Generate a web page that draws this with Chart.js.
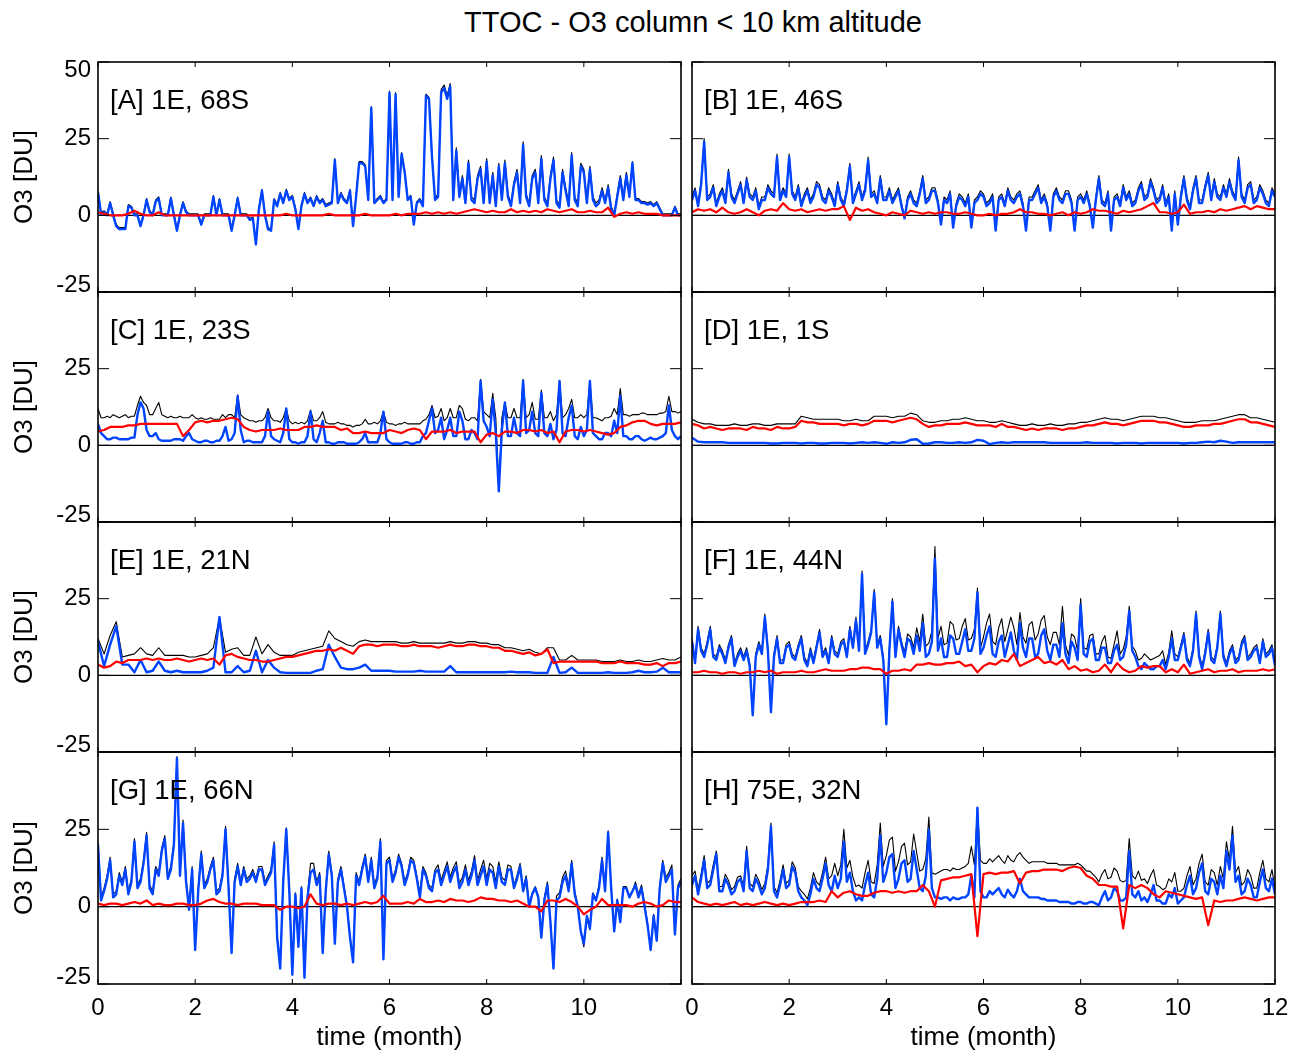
<!DOCTYPE html>
<html>
<head>
<meta charset="utf-8">
<title>TTOC - O3 column &lt; 10 km altitude</title>
<script src="https://cdn.jsdelivr.net/npm/chart.js@4.4.1/dist/chart.umd.min.js"></script>
<style>
	html, body { margin: 0; padding: 0; background: #fff; }
	body {
		width: 1303px; height: 1053px; position: relative; overflow: hidden;
		font-family: "Liberation Sans", Arial, Helvetica, sans-serif; color: #000;
	}
	.title {
		position: absolute; left: 693px; top: 6px; transform: translateX(-50%);
		font-size: 29px; line-height: 32px; white-space: nowrap;
	}
	.panel-label { position: absolute; font-size: 27.5px; line-height: 32px; white-space: nowrap; z-index: 2; }
	canvas { position: absolute; }
</style>
</head>
<body>
<div class="title">TTOC - O3 column &lt; 10 km altitude</div>
<script>
'use strict';

// time axis (months): coarse grid, one sample every 1/8 month
const months = [
	0, 0.125, 0.25, 0.375, 0.5, 0.625, 0.75, 0.875,
	1, 1.125, 1.25, 1.375, 1.5, 1.625, 1.75, 1.875,
	2, 2.125, 2.25, 2.375, 2.5, 2.625, 2.75, 2.875,
	3, 3.125, 3.25, 3.375, 3.5, 3.625, 3.75, 3.875,
	4, 4.125, 4.25, 4.375, 4.5, 4.625, 4.75, 4.875,
	5, 5.125, 5.25, 5.375, 5.5, 5.625, 5.75, 5.875,
	6, 6.125, 6.25, 6.375, 6.5, 6.625, 6.75, 6.875,
	7, 7.125, 7.25, 7.375, 7.5, 7.625, 7.75, 7.875,
	8, 8.125, 8.25, 8.375, 8.5, 8.625, 8.75, 8.875,
	9, 9.125, 9.25, 9.375, 9.5, 9.625, 9.75, 9.875,
	10, 10.125, 10.25, 10.375, 10.5, 10.625, 10.75, 10.875,
	11, 11.125, 11.25, 11.375, 11.5, 11.625, 11.75, 11.875,
	12
];

// fine grid, one sample every 1/16 month (for the spiky series)
const monthsFine = [
	0, 0.0625, 0.125, 0.1875, 0.25, 0.3125, 0.375, 0.4375, 0.5, 0.5625, 0.625, 0.6875, 0.75, 0.8125, 0.875, 0.9375,
	1, 1.0625, 1.125, 1.1875, 1.25, 1.3125, 1.375, 1.4375, 1.5, 1.5625, 1.625, 1.6875, 1.75, 1.8125, 1.875, 1.9375,
	2, 2.0625, 2.125, 2.1875, 2.25, 2.3125, 2.375, 2.4375, 2.5, 2.5625, 2.625, 2.6875, 2.75, 2.8125, 2.875, 2.9375,
	3, 3.0625, 3.125, 3.1875, 3.25, 3.3125, 3.375, 3.4375, 3.5, 3.5625, 3.625, 3.6875, 3.75, 3.8125, 3.875, 3.9375,
	4, 4.0625, 4.125, 4.1875, 4.25, 4.3125, 4.375, 4.4375, 4.5, 4.5625, 4.625, 4.6875, 4.75, 4.8125, 4.875, 4.9375,
	5, 5.0625, 5.125, 5.1875, 5.25, 5.3125, 5.375, 5.4375, 5.5, 5.5625, 5.625, 5.6875, 5.75, 5.8125, 5.875, 5.9375,
	6, 6.0625, 6.125, 6.1875, 6.25, 6.3125, 6.375, 6.4375, 6.5, 6.5625, 6.625, 6.6875, 6.75, 6.8125, 6.875, 6.9375,
	7, 7.0625, 7.125, 7.1875, 7.25, 7.3125, 7.375, 7.4375, 7.5, 7.5625, 7.625, 7.6875, 7.75, 7.8125, 7.875, 7.9375,
	8, 8.0625, 8.125, 8.1875, 8.25, 8.3125, 8.375, 8.4375, 8.5, 8.5625, 8.625, 8.6875, 8.75, 8.8125, 8.875, 8.9375,
	9, 9.0625, 9.125, 9.1875, 9.25, 9.3125, 9.375, 9.4375, 9.5, 9.5625, 9.625, 9.6875, 9.75, 9.8125, 9.875, 9.9375,
	10, 10.0625, 10.125, 10.1875, 10.25, 10.3125, 10.375, 10.4375, 10.5, 10.5625, 10.625, 10.6875, 10.75, 10.8125, 10.875, 10.9375,
	11, 11.0625, 11.125, 11.1875, 11.25, 11.3125, 11.375, 11.4375, 11.5, 11.5625, 11.625, 11.6875, 11.75, 11.8125, 11.875, 11.9375,
	12
];

const xTickVals = [0, 2, 4, 6, 8, 10, 12];
const yTickVals = [-25, 0, 25, 50];
const panelLabels = ['[A] 1E, 68S', '[B] 1E, 46S', '[C] 1E, 23S', '[D] 1E, 1S',
	'[E] 1E, 21N', '[F] 1E, 44N', '[G] 1E, 66N', '[H] 75E, 32N'];

// [A] 1E, 68S  (black, blue: fine grid; red: coarse grid)
const blackA = [
	8, 1, 1.5, 0.5, 4.5, 0.5, -3, -4, -4, -4, 3.5, 3, 0.5, 0.5, -3, 0.5,
	5.5, 1.5, 0.5, 5, 6, 0.5, 0.5, 0.5, 6, 0.5, -4.5, 0.5, 4.5, 1.5, 0.5, 0.5,
	0.5, 0.5, -2.5, 0.5, 0.5, 0.5, 6.5, 0.5, 5.5, 0.5, 0.5, 0.5, -4.5, 0.5, 6, 0.5,
	0.5, 0.5, -1, -0.5, -9, 2.5, 8.5, 0.5, -4, -4.5, 5.5, 3.5, 7.5, 4.5, 8.5, 5.5,
	6.5, 2.5, -4, 3.5, 7.5, 4.5, 6, 3.5, 6.5, 4.5, 5.5, 3.5, 4, 4.5, 18.5, 4.5,
	7.5, 5.5, 4.5, 8.5, -3, 6.5, 17.5, 17.5, 16.5, 5.5, 35.5, 4.5, 5.5, 6.5, 4.5, 5.5,
	40.5, 5.5, 40, 6.5, 20.5, 14.5, 5.5, 6.5, -2.5, 4.5, 5.5, 3.5, 39.5, 38.5, 19.5, 5.5,
	7, 41, 42.5, 39, 43, 6, 22, 7, 13, 5, 18, 6, 5, 13, 16, 5,
	18.5, 5, 14, 4, 17, 6, 18, 7, 4, 11, 15, 5, 24, 7, 4, 13,
	15, 5, 19.5, 6, 4, 13, 19, 5, 3.5, 15, 9, 4, 20.5, 6, 4, 17,
	15, 5, 16, 6, 4, 5, 9, 5, 10, 3, 0.5, 7, 13, 6, 14, 6.5,
	17.5, 5.5, 5.5, 4.5, 4.5, 4, 4.5, 3.5, 4.5, 2.5, 0.5, 0.5, 0.5, 0.5, 3, 0.5,
	0.5
];
const blueA = [
	7.5, 0.5, 1, 0, 4, 0, -3.5, -4.5, -4.5, -4.5, 3, 2.5, 0, 0, -3.5, 0,
	5, 1, 0, 4.5, 5.5, 0, 0, 0, 5.5, 0, -5, 0, 4, 1, 0, 0,
	0, 0, -3, 0, 0, 0, 6, 0, 5, 0, 0, 0, -5, 0, 5.5, 0,
	0, 0, -1.5, -1, -9.5, 2, 8, 0, -4.5, -5, 5, 3, 7, 4, 8, 5,
	6, 2, -4.5, 3, 7, 4, 5.5, 3, 6, 4, 5, 3, 3.5, 4, 18, 4,
	7, 5, 4, 8, -3.5, 6, 17, 17, 16, 5, 35, 4, 5, 6, 4, 5,
	40, 5, 39.5, 6, 20, 14, 5, 6, -3, 4, 5, 3, 39, 38, 19, 5,
	6, 40, 41.5, 38, 42, 5, 21, 6, 12, 4, 17, 5, 4, 12, 15, 4,
	17.5, 4, 13, 3, 16, 5, 17, 6, 3, 10, 14, 4, 23, 6, 3, 12,
	14, 4, 18.5, 5, 3, 12, 18, 4, 2.5, 14, 8, 3, 19.5, 5, 3, 16,
	14, 4, 15, 5, 3, 4, 8, 4, 9, 2, 0, 6, 12, 5, 13, 6,
	17, 5, 5, 4, 4, 3.5, 4, 3, 4, 2, 0, 0, 0, 0, 2.5, 0,
	0
];
const redA = [
	1, 0.5, 0, 0, 0, 0.5, 1.5, 0.5,
	0, 0, 1, 0, 0, 0, 0, 0,
	0, 0, 0, 0, 0, 0, 0, 0,
	0, 0, 0, 0, 0, 0, 0, 0.5,
	0, 0, 0, 0, 0, 0, 0.5, 0,
	0, 0, 0, 0, 0.5, 0, 0, 0,
	0, 0.5, 0, 0.5, 0.5, 0.5, 1, 0.5,
	1, 0.5, 1, 0.5, 1, 1.5, 2, 1.5,
	1, 1.5, 1, 1, 2, 1, 1.5, 1,
	1.5, 1, 2, 1.5, 1, 1.5, 2, 1,
	1, 1.5, 1, 1, 2.5, -0.5, 0.5, 1,
	0.5, 1, 0.5, 0.5, 0.5, 0, 0, 0,
	0
];

// [B] 1E, 46S
const blackB = [
	6, 9, 4, 11, 25, 6, 7, 10, 4, 7, 9, 5, 15, 7, 5, 8,
	11, 5, 12.5, 7, 6, 9, 3, 6, 6, 10, 8, 7, 20, 6, 9, 7,
	20, 8, 6, 10, 4, 7, 9, 5, 7, 11, 10, 6, 5, 9, 7, 4,
	11, 6, 4, 9, 17, 5, 8, 11, 6, 9, 19, 7, 8, 5, 13, 6,
	6, 9, 5, 7, 9, 4, -0.5, 6, 8, 5, 4, 8, 13, 5, 6, 9,
	9, 5, -2.5, 6, 5, 8, -3.5, 4, 7, 6, 4, 7, -3.5, 5, 6, 8,
	7, 4, 5, 7, -4.5, 6, 7, 4, 9, 6, 5, 7, 8, 4, -4.5, 6,
	6, 8, 10, 5, 7, 4, -4.5, 7, 9, 6, 5, 8, 8, 5, -4.5, 6,
	7, 5, 8, 4, -3.5, 6, 13, 5, 4, 8, -4.5, 6, 7, 4, 10, 6,
	8, 4, 5, 9, 11, 6, 7, 12, 9, 5, 6, 10, 4, 7, -4.5, 8,
	-2.5, 7, 13, 6, 3, 9, 13, 5, 5, 10, 14, 6, 12, 7, 6, 10,
	7, 12, 8, 6, 19, 7, 5, 10, 11, 5, 6, 10, 8, 5, 4, 9,
	7
];
const blueB = [
	5, 8, 3, 10, 24, 5, 6, 9, 3, 6, 8, 4, 14, 6, 4, 7,
	10, 4, 11.5, 6, 5, 8, 2, 5, 5, 9, 7, 6, 19, 5, 8, 6,
	19, 7, 5, 9, 3, 6, 8, 4, 6, 10, 9, 5, 4, 8, 6, 3,
	10, 5, 3, 8, 16, 4, 7, 10, 5, 8, 18, 6, 7, 4, 12, 5,
	5, 8, 4, 6, 8, 3, -1, 5, 7, 4, 3, 7, 12, 4, 5, 8,
	8, 4, -3, 5, 4, 7, -4, 3, 6, 5, 3, 6, -4, 4, 5, 7,
	6, 3, 4, 6, -5, 5, 6, 3, 8, 5, 4, 6, 7, 3, -5, 5,
	5, 7, 9, 4, 6, 3, -5, 6, 8, 5, 4, 7, 7, 4, -5, 5,
	6, 4, 7, 3, -4, 5, 12, 4, 3, 7, -5, 5, 6, 3, 9, 5,
	7, 3, 4, 8, 10, 5, 6, 11, 8, 4, 5, 9, 3, 6, -5, 7,
	-3, 6, 12, 5, 2, 8, 12, 4, 4, 9, 13, 5, 11, 6, 5, 9,
	6, 11, 7, 5, 18, 6, 4, 9, 10, 4, 5, 9, 7, 4, 3, 8,
	6
];
const redB = [
	1, 2, 1.5, 2, 1, 2.5, 1, 0.5,
	1, 2, 1, 0, 1.5, 2, 1.5, 4,
	2, 1.5, 2, 1, 1.5, 2, 1.5, 2,
	2, 3, -1.5, 2.5, 1.5, 2, 1, 0.5,
	0, 1, 0.5, 0, 1.5, 1, 0.5, 1,
	0.5, 1, 1, 0.5, 0.5, 1, 0.5, 0,
	0, 0.5, 0, 0.5, 0.5, 1, 2, 1,
	1, 0.5, 0.5, 0, 0.5, 1, 0, 1,
	0.5, 1, 2, 1.5, 1.5, 1, 0.5, 1.5,
	1, 1.5, 2, 3, 4, 1, 1, 0.5,
	1, 3.5, 0.5, 1, 1, 1.5, 1, 2,
	1.5, 2, 2.5, 3, 2, 3, 2.5, 2,
	2
];

// [C] 1E, 23S
const blackC = [
	12, 9, 9, 9.5, 9, 10, 9.5, 9, 9.5, 10, 9, 9.5, 9.5, 13, 16, 14,
	13, 10, 10, 12, 14, 10, 9.5, 9, 9.5, 9, 9, 9.5, 9, 9, 9, 10,
	9, 8.5, 9, 8.5, 8.5, 9, 8.5, 8.5, 8.5, 10, 9, 10, 10, 9, 16.5, 10,
	9, 8.5, 8, 8, 7.5, 8, 8, 9, 12, 9, 8, 8, 7.5, 9, 12, 8,
	7, 7.5, 7, 7.5, 7, 8, 11.5, 8, 8, 9, 11, 7.5, 7, 7, 7, 7.5,
	7, 7, 6.5, 6.5, 6, 6.5, 6.5, 7, 8.5, 7, 7, 7.5, 7, 8, 11, 7.5,
	7, 7, 6.5, 7, 7, 7.5, 7, 7, 7, 7, 7, 8, 8.5, 10, 13, 9,
	9.5, 12, 8, 9, 12, 9, 9, 13, 12, 8.5, 8, 9, 9, 8, 21.5, 11,
	10, 9, 17, 9, -14, 9, 14, 9, 9, 12, 9, 9, 21.5, 9, 10, 14,
	8.5, 8.5, 18, 9, 9, 11, 8, 10, 21, 9, 10, 12, 15, 9, 9, 10,
	9, 10, 21, 9, 9, 8.5, 8, 9, 9, 9.5, 12, 10, 18.5, 10, 10, 9.5,
	10, 10, 10, 10.5, 10.5, 10, 10, 10, 10, 10.5, 10.5, 11, 16, 11, 11, 10.5,
	11
];
const blueC = [
	7, 4, 3, 2, 2, 2.5, 2.5, 2, 2, 2, 2, 2.5, 2.5, 10, 14, 12,
	5, 3, 3, 4, 2, 1.5, 1.5, 1.5, 1.5, 2, 2, 2, 1.5, 3, 4, 2,
	1.5, 1, 1, 1.5, 1.5, 1, 1, 1.5, 1.5, 3, 6, 1.5, 2, 4, 16, 5,
	1, 1.5, 1.5, 1, 1, 1, 1, 3, 11, 3, 2, 1.5, 1, 4, 12, 2,
	1, 1, 0.5, 1, 1, 3, 11, 2, 1, 4, 8, 1, 1, 0.5, 0.5, 1,
	1, 1, 0.5, 0.5, 0.5, 0.5, 1, 2, 4, 1, 1, 1, 1, 4, 11, 2,
	1, 0.5, 0.5, 0.5, 0.5, 1, 1, 0.5, 0.5, 1, 1, 3, 4, 8, 12, 4,
	5, 9, 2, 5, 9, 3, 3, 11, 8, 2, 2, 5, 4, 2, 21, 8,
	6, 3, 15, 4, -15, 5, 14, 3, 3, 9, 4, 3, 21, 4, 5, 11,
	4, 3, 17, 4, 3, 7, 2, 5, 21, 4, 3, 9, 13, 3, 2, 6,
	3, 5, 21, 4, 3, 2, 2, 4, 4, 3, 8, 4, 16, 3, 3, 2,
	2, 3, 3, 2, 1.5, 2, 2.5, 2, 2, 2.5, 3, 4, 13, 5, 3, 2,
	3
];
const redC = [
	4.5, 5, 6, 6, 6, 6.5, 6.5, 7,
	7, 7, 7, 7, 7, 7, 3, 5,
	7.5, 8, 7.5, 8, 8, 8.5, 9, 8.5,
	6, 5, 4.5, 5, 5, 5, 5.5, 5,
	5, 5, 6, 6, 6.5, 6, 6, 6,
	5, 5.5, 4, 4, 4.5, 4, 4, 4,
	5, 4.5, 4, 5, 5.5, 5, 2, 4.5,
	4.5, 4.5, 5, 4, 4.5, 4.5, 4.5, 1,
	3.5, 4, 3, 4.5, 4.5, 4, 5, 5,
	4.5, 5, 4, 4.5, 1, 4.5, 5, 5,
	4.5, 5, 4.5, 4, 3.5, 4, 6, 6.5,
	7.5, 8, 8, 7, 6.5, 7, 7, 7,
	7.5
];

// [D] 1E, 1S  (coarse grid)
const blackD = [
	8.5, 7.5, 7, 7, 6.5, 6.5, 6.5, 7,
	6.5, 6.5, 7, 7, 6.5, 6.5, 7, 7,
	7, 7, 9.5, 9, 8.5, 8.5, 8.5, 8.5,
	8.5, 8, 8, 8.5, 8, 8, 9.5, 9.5,
	9.5, 9, 9.5, 9.5, 10.5, 10, 8, 7.5,
	7.5, 8, 8, 8.5, 8.5, 9, 8.5, 8,
	8, 7.5, 7.5, 8, 7.5, 7, 6.5, 6.5,
	7, 6.5, 6.5, 7, 6.5, 6.5, 7, 7,
	7.5, 7.5, 8, 8.5, 9, 8.5, 8.5, 8,
	8.5, 9, 9.5, 9.5, 9.5, 9, 9, 8.5,
	8, 7.5, 7.5, 7.5, 8, 8, 8, 8.5,
	9, 9.5, 10, 10, 9, 9, 8.5, 8,
	7.5
];
const blueD = [
	2.5, 1.2, 1, 1, 1, 1, 0.8, 0.8,
	0.8, 0.8, 0.8, 0.8, 0.8, 0.6, 0.6, 0.8,
	0.8, 0.8, 0.6, 0.8, 0.8, 0.6, 0.6, 0.8,
	0.8, 0.8, 0.6, 0.8, 1, 0.8, 1, 0.8,
	0.5, 1, 0.8, 1, 1.8, 2, 0.5, 0.6,
	1, 1, 0.8, 0.8, 1, 0.8, 1, 1.8,
	1.5, 0.4, 0.8, 1, 0.8, 1, 1, 1,
	1, 1, 1, 0.8, 0.8, 0.8, 0.8, 0.8,
	0.8, 1, 0.8, 0.8, 0.8, 0.8, 0.6, 0.8,
	0.8, 0.8, 0.6, 0.8, 0.8, 0.8, 0.8, 0.8,
	0.8, 0.6, 0.8, 0.8, 1, 1.2, 1, 1.5,
	1.2, 0.8, 1, 1, 1, 1, 1, 1,
	1
];
const redD = [
	7, 6.5, 5.5, 6, 5.5, 5, 5.5, 5.5,
	5.5, 5, 6, 5.5, 5.5, 5, 6, 5.5,
	5.5, 6, 8, 7.5, 7.5, 7, 7, 7,
	7, 6.5, 7, 7, 6.5, 7, 8, 8,
	8, 7.5, 8, 8.5, 9, 8.5, 7, 6,
	6.5, 6.5, 7, 7, 7, 7.5, 7, 6.5,
	6.5, 6.5, 6, 7, 6, 6, 5.5, 5,
	5.5, 5, 5.5, 5.5, 5.5, 5, 5.5, 5.5,
	6, 6.5, 6.5, 7, 7.5, 7, 7, 6.5,
	7, 7.5, 8, 8, 8, 7.5, 7.5, 7,
	6.5, 6, 6, 6.5, 6.5, 6.5, 7, 7,
	7.5, 8, 8.5, 8.5, 7.5, 7.5, 7, 6.5,
	6
];

// [E] 1E, 21N  (coarse grid)
const blackE = [
	12, 7, 13, 17.5, 6, 6.5, 7, 9,
	7, 6.5, 9, 6.5, 6.5, 6.5, 6.5, 6,
	6, 6.5, 7, 9, 19, 7.5, 8.5, 9,
	6.5, 6.5, 12.5, 7, 10, 7.5, 6.5, 6.5,
	6.5, 7.5, 8, 8.5, 9, 9.5, 14.5, 12,
	11, 10, 9.5, 11, 11.5, 11, 11, 11,
	11, 11, 10.5, 10.5, 11, 10.5, 10.5, 10.5,
	10.5, 10.5, 11, 10.5, 10.5, 11, 11, 10.5,
	10.5, 10, 10, 9, 9, 8.5, 8, 8.5,
	7.5, 7, 9, 9, 5, 5, 6.5, 5,
	5, 5, 5, 4.5, 4.5, 4.5, 5, 4.5,
	4.5, 5, 4.5, 4.5, 5, 5.5, 5, 5,
	6
];
const blueE = [
	11, 3, 10, 16, 3.5, 3.5, 1, 5,
	1, 1.5, 4.5, 1.5, 1, 1.5, 1, 1,
	1, 1, 1.5, 2.5, 19, 1, 1, 3,
	1, 1.5, 8, 1, 5, 2.5, 1, 0.8,
	0.8, 0.8, 0.8, 0.8, 1.5, 2, 10, 6,
	2.5, 2, 2, 2.5, 3.5, 1.5, 1.5, 1.5,
	1.5, 1.2, 1.2, 1.2, 1.2, 1.5, 1.2, 1.2,
	1.2, 1.2, 3, 1, 1, 1, 1, 1,
	1, 1, 1, 1, 1.2, 1, 1, 1,
	0.8, 0.8, 0.8, 6, 0.8, 1, 2.5, 0.8,
	0.8, 0.8, 0.8, 0.8, 1, 0.8, 0.8, 0.8,
	1, 1.5, 1, 1, 1.2, 2.5, 1, 1,
	1
];
const redE = [
	3.5, 2.5, 3, 4.5, 4, 5, 5, 5,
	5.5, 5, 5.5, 5, 5, 5.5, 5, 4.5,
	5, 5.5, 5, 5.5, 3.5, 6.5, 7, 6,
	5.5, 5, 5, 4.5, 4.5, 5, 5.5, 6,
	6, 6.5, 7, 7.5, 8, 8, 8.5, 8,
	9, 8, 7, 9.5, 10, 10, 9.5, 10,
	10, 10, 9.5, 9.5, 10, 9.5, 9.5, 9.5,
	9, 9.5, 10, 9.5, 9.5, 10, 10, 9.5,
	9.5, 9, 9, 8, 8, 7.5, 7, 7.5,
	6.5, 7, 8.5, 4, 4.5, 4.5, 4.5, 4.5,
	4.5, 4.5, 4.5, 4, 4, 4, 4.5, 4,
	4, 4, 3.5, 3.5, 4, 3, 4, 4,
	4.5
];

// [F] 1E, 44N
const blackF = [
	12, 5, 16, 9, 7, 11, 16, 7, 6, 10, 8, 5, 10, 13, 4, 7,
	9, 6, 9, 4, -12.5, 7, 11, 8, 20, 9, -11.5, 7, 13, 5, 5, 10,
	11, 7, 6, 10, 13, 6, 4, 9, 5, 10, 15, 7, 9, 5, 13, 8,
	7, 11, 12, 7, 16, 10, 19, 9, 34, 8, 11, 15, 28, 10, 13, 6,
	-15.5, 9, 25, 7, 16, 11, 7.5, 13.5, 12.5, 9, 15.5, 11, 20, 9.5, 10.5, 14.5,
	42, 12, 16, 10, 10.5, 17.5, 16.5, 11.5, 12, 16, 18.5, 11.5, 12, 15, 28.5, 9,
	12.5, 17, 20, 11, 10, 15.5, 18.5, 11, 15, 19, 15.5, 10, 20.5, 12.5, 10.5, 16.5,
	17.5, 11.5, 13.5, 18, 19.5, 12.5, 10, 14, 14, 10, 22.5, 10, 6.5, 13.5, 12.5, 8,
	25, 9, 8.5, 13, 13.5, 7, 7, 11, 13, 6, 5.5, 10, 14.5, 7, 8.5, 12.5,
	22.5, 9.5, 8, 5, 5.5, 7, 6, 5, 5.5, 6, 6.5, 8, 3.5, 7.5, 14.5, 7,
	6, 10, 14, 6, 4, 9, 21, 7, 3, 8, 15, 6, 5, 10, 21, 7,
	4, 8, 10, 5, 6, 11, 13, 6, 7, 9, 10, 5, 12, 7, 8, 10,
	4
];
const blueF = [
	11, 4, 15, 8, 6, 10, 15, 6, 5, 9, 7, 4, 9, 12, 3, 6,
	8, 5, 8, 3, -13, 6, 10, 7, 19, 8, -12, 6, 12, 4, 4, 9,
	10, 6, 5, 9, 12, 5, 3, 8, 4, 9, 14, 6, 8, 4, 12, 7,
	6, 10, 11, 6, 15, 9, 18, 8, 33, 7, 10, 14, 27, 9, 12, 5,
	-16, 8, 24, 6, 15, 10, 6, 12, 11, 7, 13, 8, 17, 6, 7, 11,
	38, 8, 12, 6, 6, 13, 12, 7, 7, 11, 15, 8, 8, 12, 27, 7,
	9, 13, 16, 7, 6, 11, 13, 6, 10, 14, 8, 5, 17, 9, 6, 12,
	12, 6, 7, 13, 15, 8, 5, 10, 10, 6, 17, 7, 4, 11, 9, 5,
	23, 7, 6, 11, 12, 5, 5, 9, 9, 4, 4, 8, 10, 5, 6, 10,
	21, 8, 6, 3, 2, 4, 3, 2, 2, 3, 3, 5, 2, 6, 12, 5,
	5, 9, 13, 5, 3, 8, 20, 6, 2, 7, 14, 5, 4, 9, 20, 6,
	3, 7, 9, 4, 5, 10, 12, 5, 6, 8, 9, 4, 11, 6, 7, 9,
	3
];
const redF = [
	1, 1, 1.5, 1, 1, 0.5, 1, 1,
	0.5, 1, 1, 1.5, 1, 1.5, 0.5, 1,
	1, 1, 1.5, 1, 1, 1.5, 2, 1.5,
	1.5, 1.5, 2, 2, 2.5, 2.5, 2, 2,
	0.5, 1.5, 1.5, 2, 1.5, 3.5, 3.5, 4,
	3.5, 3.5, 4, 4, 4.5, 3, 3.5, 1,
	3, 4, 3.5, 5, 4.5, 7, 3, 4,
	5, 6, 4, 4.5, 3.5, 5, 2, 3,
	1.5, 2, 1, 1.5, 3.5, 1, 4, 2,
	1, 1.5, 3, 2.5, 3, 3, 1, 2,
	1, 3.5, 0.5, 1, 1.5, 2, 1, 1.5,
	1.5, 2, 1, 1.5, 1.5, 1.5, 2, 1.5,
	2
];

// [G] 1E, 66N
const blackG = [
	21, 3, 6, 10, 16, 4, 5, 11, 8, 13, 5, 9, 22, 7, 9, 15,
	24, 7, 5, 13, 11, 19, 23, 10, 13, 21, 48.5, 11, 28, 9, -0.5, 13,
	-13.5, 6, 18, 7, 9, 13, 16, 5, 6, 11, 26, 7, -14.5, 9, 14, 8,
	13, 9, 10, 12, 9, 13, 13, 8, 10, 12, 21, -9.5, -19.5, 9, 25.5, 6,
	-21.5, 4.5, -12.5, 6.5, -22.5, 4, 14, 14, 8, 11, -14.5, 6, 18, 11, -11.5, 9,
	13, 7, 0.5, -9.5, -17.5, 11, 8, 13, 17, 9, 16, 7, 10, 22, -15, 15,
	16, 9, 12, 17, 14, 8, 11, 16, 15, 10, 4.5, 13, 11, 7, 6, 12,
	13.5, 8.5, 11.5, 14.5, 9.5, 12.5, 14.5, 7.5, 9.5, 13.5, 8.5, 11.5, 16.5, 8.5, 12, 15,
	9, 14, 13, 8, 14.5, 9.5, 8.5, 13.5, 13, 7, 10, 14, 6, 10, 0.5, 4.5,
	6.5, 3.5, -10, 3, 8, -4.5, -19.5, 3.5, 4.5, 9.5, 11.5, 6.5, 15, 5, 0.5, -8,
	-13, -3.5, -7.5, 4.5, 2.5, 7, 16, 6, 24.5, 6.5, -7.5, 2.5, -4.5, 6.5, 6.5, 3.5,
	5, 8, 4, 7, 1, -5.5, -13.5, -2.5, -10.5, 7, 15, 9.5, 11, 13.5, -8.5, 7,
	9
];
const blueG = [
	20, 2, 5, 9, 15, 3, 4, 10, 7, 12, 4, 8, 21, 6, 8, 14,
	23, 6, 4, 12, 10, 18, 22, 9, 12, 20, 48, 10, 27, 8, -1, 12,
	-14, 5, 17, 6, 8, 12, 15, 4, 5, 10, 25, 6, -15, 8, 13, 7,
	12, 8, 9, 11, 8, 12, 12, 7, 9, 11, 20, -10, -20, 8, 25, 5,
	-22, 4, -13, 6, -23, 3, 11, 12, 7, 10, -15, 5, 17, 10, -12, 8,
	12, 6, 0, -10, -18, 10, 7, 12, 16, 8, 15, 6, 9, 21, -17, 14,
	15, 8, 11, 16, 13, 7, 10, 15, 14, 9, 3, 12, 10, 6, 5, 11,
	12, 7, 10, 13, 8, 11, 13, 6, 8, 12, 7, 10, 15, 7, 10, 13,
	7, 12, 11, 6, 13, 8, 7, 12, 12, 6, 9, 13, 5, 9, 0, 4,
	6, 3, -10, 2, 7, -5, -20, 2, 3, 8, 10, 5, 14, 4, 0, -8,
	-12, -3, -7, 4, 2, 6, 15, 5, 24, 6, -8, 2, -5, 6, 6, 3,
	5, 7, 3, 6, 0, -6, -14, -3, -11, 6, 14, 8, 10, 12, -9, 6,
	8
];
const redG = [
	1, 0.5, 1, 1, 0.5, 1, 1.5, 1,
	2, 0.5, 1, 0.5, 0.5, 1, 1, 0.5,
	0.5, 1, 2, 2.5, 1.5, 1, 1, 0.5,
	1, 1, 1, 0.5, 0.5, 0.5, -1, 0,
	0, -0.5, 0, 4, 1, 0.5, 1, 1,
	0.5, 1, 0.5, 1, 1.5, 1, 1.5, 3.5,
	1, 1, 1, 1.5, 1, 2.5, 1.5, 1.5,
	2, 1.5, 2.5, 2, 2, 1.5, 2, 3,
	2.5, 2.5, 2, 2, 1.5, 2, 1, 0,
	0, -1.5, 2, 2, 1.5, 2.5, 1.5, 0,
	-2.5, -1, 0, 2.5, 0.5, 0.5, 0.5, 0.5,
	0, 1, 1.5, 1, 0, 0.5, 2, 1.5,
	1.5
];

// [H] 75E, 32N
const blackH = [
	10, 11.5, 5.5, 10.5, 16.5, 7.5, 8.5, 13.5, 18, 6.5, 6.5, 10.5, 8.5, 5.5, 6.5, 9.5,
	10, 6.5, 19.5, 7.5, 6.5, 10.5, 8.5, 5.5, 7.5, 13.5, 27, 6.5, 4.5, 8.5, 13.5, 7.5,
	8.5, 14.5, 12.5, 6.5, 5, 4, 2.5, 6, 11, 8, 7, 11, 16, 9, 10, 14,
	10, 13.5, 25, 12.5, 15, 9.5, 6.5, 7, 6, 11, 15, 8, 7.5, 13.5, 27, 13,
	16.5, 21.5, 22.5, 11.5, 14.5, 19.5, 20.5, 13.5, 14.5, 23.5, 17.5, 11.5, 12, 15.5, 29, 11,
	10.5, 11, 11.5, 12, 12, 11.5, 12.5, 12, 12, 12.5, 13, 14, 19.5, 13.5, 32, 15,
	14, 14, 15.5, 14.5, 15.5, 16.5, 15, 14, 16.5, 15, 14.5, 16.5, 17.5, 16, 15, 14,
	14.5, 14.5, 14.5, 14.5, 14.5, 14, 14, 14, 14, 13.5, 13.5, 13.5, 13.5, 13.5, 13.5, 14,
	13.5, 12.5, 11.5, 11.5, 10.5, 9.5, 8, 10.5, 12, 9, 9.5, 12.5, 11.5, 8.5, 8, 8.5,
	22, 10, 9, 11.5, 8.5, 9, 7.5, 10, 12, 7, 6.5, 5.5, 6, 9, 8, 11,
	5, 5, 6, 10, 13, 7, 9, 14, 17, 8, 7, 12, 11, 7, 13, 9,
	21, 15, 26, 11, 13, 7, 8, 12, 10, 6, 6, 11, 15, 9, 8, 12,
	6
];
const blueH = [
	7, 10, 4, 9, 15, 6, 7, 12, 17, 5, 5, 9, 7, 4, 5, 8,
	9, 5, 18, 6, 5, 9, 7, 4, 6, 12, 26, 5, 3, 7, 12, 6,
	7, 13, 11, 5, 3, 2, 0.5, 4, 9, 6, 5, 9, 14, 7, 5, 10,
	6, 9, 21, 8, 11, 5, 2, 3, 2, 7, 11, 4, 3, 9, 23, 8,
	11, 16, 17, 6, 9, 14, 15, 8, 9, 18, 12, 6, 5, 10, 25, 6,
	3, 3, 2.5, 3, 3, 2, 3, 2.5, 2.5, 3, 3, 4, 10, 3, 32, 5,
	3, 3, 5, 4, 5, 6, 4, 3, 5.5, 4, 3, 5, 9, 5, 4, 3,
	3, 3, 3, 2.5, 2.5, 2, 2, 2, 2, 1.5, 1.5, 1.5, 1.5, 1, 1, 1.5,
	1.5, 1, 1, 1.5, 1.5, 1, 0.5, 3, 5, 2, 3, 6, 5, 2, 2, 3,
	18, 4, 3, 5, 2, 3, 1.5, 4, 7, 2, 2, 1, 1, 4, 3, 6,
	1, 2, 3, 7, 10, 4, 6, 11, 14, 5, 4, 9, 8, 4, 10, 6,
	18, 12, 23, 8, 10, 4, 5, 9, 7, 3, 3, 8, 12, 6, 5, 9,
	4
];
const redH = [
	3, 1.5, 1, 0.5, 1, 0.5, 1, 1.5,
	0.5, 1, 0.5, 1, 1.5, 1, 0.5, 1,
	0.5, 1, 1.5, 1.5, 1.5, 2, 1.5, 5,
	3, 4.5, 5, 4, 3.5, 3.5, 4.5, 5,
	5, 4.5, 5, 4.5, 5, 5, 7, 5,
	0, 8.5, 9, 9.5, 9.5, 10, 10.5, -9.5,
	10.5, 11, 10.5, 11, 11, 11.5, 7.5, 11,
	11.5, 11.5, 12, 12, 12, 11.5, 12.5, 13,
	12.5, 10, 9, 7, 7, 6.5, 6.5, -7,
	7, 6, 7, 6, 4, 3, 5, 4.5,
	4, 3.5, 3, 2.5, 3, -6, 2, 1.5,
	2, 2, 2.5, 3, 2.5, 2, 2.5, 3,
	3
];

// layout of the 2 x 4 grid of panels (page pixels)
const COL_LEFT = [98, 692];
const ROW_TOP = [62, 292, 522, 752];
const ROW_BOTTOM = [292, 522, 752, 984];
const PLOT_W = 583;
const FONT = '"Liberation Sans", Arial, Helvetica, sans-serif';

Chart.defaults.font.family = FONT;
Chart.defaults.color = '#000';

// frame, inward tick marks and zero line, IDL style
const panelFrame = {
	id: 'panelFrame',
	beforeDatasetsDraw(chart) {
		const { ctx, chartArea: a, scales: { y } } = chart;
		const y0 = y.getPixelForValue(0);
		ctx.save();
		ctx.strokeStyle = '#000';
		ctx.lineWidth = 1.2;
		ctx.beginPath();
		ctx.moveTo(a.left, y0);
		ctx.lineTo(a.right, y0);
		ctx.stroke();
		ctx.restore();
	},
	afterDatasetsDraw(chart) {
		const { ctx, chartArea: a, scales: { x, y } } = chart;
		ctx.save();
		ctx.strokeStyle = '#000';
		ctx.lineWidth = 1.6;
		ctx.strokeRect(a.left, a.top, a.right - a.left, a.bottom - a.top);
		ctx.lineWidth = 1;
		ctx.beginPath();
		xTickVals.forEach(v => {
			const px = x.getPixelForValue(v);
			ctx.moveTo(px, a.top);
			ctx.lineTo(px, a.top + 5);
			ctx.moveTo(px, a.bottom);
			ctx.lineTo(px, a.bottom - 5);
		});
		yTickVals.forEach(v => {
			const py = y.getPixelForValue(v);
			ctx.moveTo(a.left, py);
			ctx.lineTo(a.left + 11, py);
			ctx.moveTo(a.right, py);
			ctx.lineTo(a.right - 11, py);
		});
		ctx.stroke();
		ctx.restore();
	}
};

function toPoints(values) {
	const times = values.length === monthsFine.length ? monthsFine : months;
	return times.map((m, i) => ({ x: m, y: values[i] }));
}

function lineSet(label, values, color, width) {
	return {
		label: label,
		data: toPoints(values),
		borderColor: color,
		borderWidth: width,
		borderJoinStyle: 'round',
		pointRadius: 0,
		tension: 0,
		fill: false
	};
}

function createPanel(idx, black, blue, red) {
	const col = idx % 2;
	const row = Math.floor(idx / 2);
	const isLeft = col === 0;
	const isBottom = row === 3;

	const padL = isLeft ? 0 : 8;
	const yW = isLeft ? 98 : 0;
	const padT = 8, padR = 20;
	const xH = isBottom ? 69 : 0;
	const padB = isBottom ? 0 : 8;
	const plotH = ROW_BOTTOM[row] - ROW_TOP[row];

	const canvas = document.createElement('canvas');
	canvas.width = padL + yW + PLOT_W + padR;
	canvas.height = padT + plotH + xH + padB;
	canvas.style.left = (COL_LEFT[col] - yW - padL) + 'px';
	canvas.style.top = (ROW_TOP[row] - padT) + 'px';
	document.body.appendChild(canvas);

	const label = document.createElement('div');
	label.className = 'panel-label';
	label.textContent = panelLabels[idx];
	label.style.left = (COL_LEFT[col] + 12) + 'px';
	label.style.top = (ROW_TOP[row] + 22) + 'px';
	document.body.appendChild(label);

	const tickFont = { size: 24, family: FONT };
	const titleFont = { size: 26, family: FONT };

	return new Chart(canvas, {
		type: 'line',
		data: {
			// first dataset is drawn on top
			datasets: [
				lineSet('red', red, '#ff0000', 2.2),
				lineSet('blue', blue, '#0044ff', 2.4),
				lineSet('black', black, '#000000', 1.1)
			]
		},
		options: {
			responsive: false,
			animation: false,
			events: [],
			layout: { padding: { left: padL, right: padR, top: padT, bottom: padB } },
			plugins: { legend: { display: false }, tooltip: { enabled: false } },
			scales: {
				x: {
					type: 'linear',
					min: 0,
					max: 12,
					display: isBottom,
					afterBuildTicks: s => { s.ticks = xTickVals.map(v => ({ value: v })); },
					afterFit: s => {
						if (isBottom) s.height = xH;
						s.paddingLeft = 0;
						s.paddingRight = 0;
					},
					grid: { display: false, drawTicks: false },
					border: { display: false },
					ticks: {
						autoSkip: false,
						maxRotation: 0,
						font: tickFont,
						color: '#000',
						padding: 10,
						callback: v => (isLeft && v === 12) ? '' : String(v)
					},
					title: {
						display: true,
						text: 'time (month)',
						font: titleFont,
						color: '#000',
						padding: { top: 0, bottom: 0 }
					}
				},
				y: {
					type: 'linear',
					min: -25,
					max: 50,
					display: isLeft,
					// edge labels sit a little inside the frame
					afterBuildTicks: s => {
						s.ticks = yTickVals.map(v => ({ value: v === -25 ? -22.8 : v === 50 ? 47.4 : v }));
					},
					afterFit: s => {
						s.width = yW;
						s.paddingTop = 0;
						s.paddingBottom = 0;
					},
					grid: { display: false, drawTicks: false },
					border: { display: false },
					ticks: {
						autoSkip: false,
						font: tickFont,
						color: '#000',
						padding: 7,
						callback: (v, i) => (row > 0 && i === 3) ? '' : String(yTickVals[i])
					},
					title: {
						display: true,
						text: 'O3 [DU]',
						font: titleFont,
						color: '#000',
						padding: { top: 9, bottom: 0 }
					}
				}
			}
		},
		plugins: [panelFrame]
	});
}

createPanel(0, blackA, blueA, redA);
createPanel(1, blackB, blueB, redB);
createPanel(2, blackC, blueC, redC);
createPanel(3, blackD, blueD, redD);
createPanel(4, blackE, blueE, redE);
createPanel(5, blackF, blueF, redF);
createPanel(6, blackG, blueG, redG);
createPanel(7, blackH, blueH, redH);
</script>
</body>
</html>
